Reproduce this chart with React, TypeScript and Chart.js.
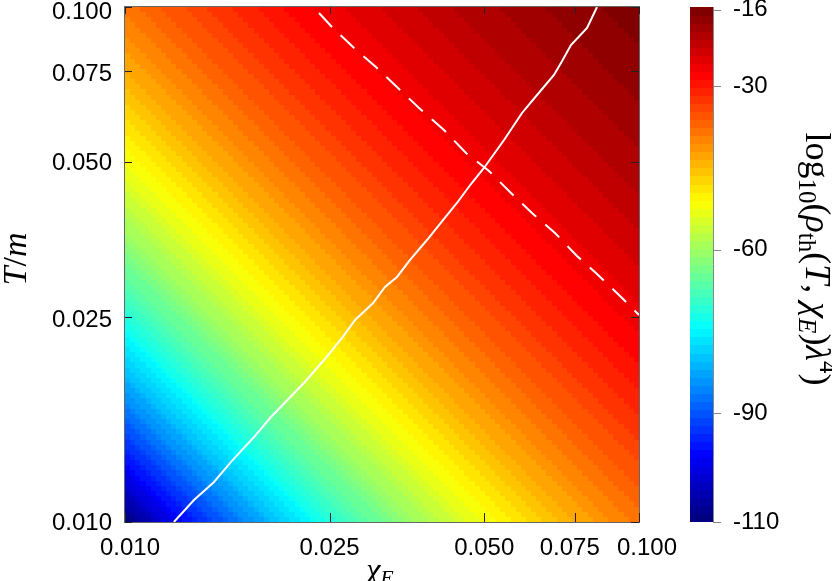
import { useEffect, useRef } from 'react';
import { Chart, registerables } from 'chart.js';

Chart.register(...registerables);

// ---------- data ----------
const X_TICKS = [0.01, 0.025, 0.05, 0.075, 0.1];
const Y_TICKS = [0.01, 0.025, 0.05, 0.075, 0.1];
const CB_TICKS = [-110, -90, -60, -30, -16];
const CB_MIN = -110;
const CB_MAX = -15.5;

// heat map: GRID_N x GRID_N log-spaced cells over [0.01,0.1]^2.
// The colour is constant along anti-diagonals, so the value of cell (i,j) is HEAT_DIAGONAL[i+j]
const GRID_N = 100;
const HEAT_DIAGONAL = [
  -108.8, -107.6, -106.4, -105.3, -104.1, -103.0, -101.9, -100.8, -99.7, -98.6,
  -97.5, -96.5, -95.5, -94.5, -93.4, -92.4, -91.4, -90.5, -89.5, -88.5,
  -87.5, -86.6, -85.7, -84.8, -83.9, -83.0, -82.1, -81.2, -80.3, -79.5,
  -78.6, -77.8, -77.0, -76.2, -75.4, -74.6, -73.8, -73.0, -72.2, -71.5,
  -70.7, -70.0, -69.2, -68.5, -67.8, -67.1, -66.4, -65.7, -65.0, -64.3,
  -63.6, -63.0, -62.3, -61.7, -61.0, -60.4, -59.7, -59.1, -58.5, -57.9,
  -57.3, -56.7, -56.1, -55.6, -55.0, -54.4, -53.8, -53.3, -52.7, -52.2,
  -51.7, -51.2, -50.6, -50.1, -49.6, -49.1, -48.6, -48.1, -47.6, -47.2,
  -46.7, -46.2, -45.7, -45.3, -44.8, -44.4, -43.9, -43.5, -43.0, -42.6,
  -42.2, -41.8, -41.4, -41.0, -40.6, -40.2, -39.8, -39.4, -39.0, -38.6,
  -38.2, -37.9, -37.5, -37.1, -36.7, -36.4, -36.0, -35.7, -35.3, -35.0,
  -34.7, -34.4, -34.0, -33.7, -33.4, -33.1, -32.7, -32.4, -32.1, -31.8,
  -31.5, -31.2, -30.9, -30.6, -30.3, -30.1, -29.8, -29.5, -29.2, -29.0,
  -28.7, -28.4, -28.1, -27.9, -27.6, -27.4, -27.1, -26.9, -26.6, -26.4,
  -26.2, -26.0, -25.7, -25.5, -25.2, -25.0, -24.8, -24.6, -24.4, -24.2,
  -23.9, -23.7, -23.5, -23.3, -23.1, -22.9, -22.7, -22.5, -22.3, -22.1,
  -21.9, -21.8, -21.6, -21.4, -21.2, -21.0, -20.8, -20.7, -20.5, -20.3,
  -20.1, -20.0, -19.8, -19.7, -19.5, -19.4, -19.2, -19.0, -18.8, -18.7,
  -18.5, -18.4, -18.3, -18.2, -18.0, -17.9, -17.7, -17.6, -17.4, -17.3,
  -17.1, -17.0, -16.9, -16.8, -16.6, -16.5, -16.4, -16.3, -16.2,
];

const SOLID_X = [
  0.01245, 0.01362, 0.0149, 0.01608, 0.01782, 0.01923, 0.02229, 0.02439, 0.02644,
  0.02803, 0.03038, 0.03205, 0.03382, 0.03585, 0.03868, 0.04156, 0.04424, 0.04711,
  0.04993, 0.05463, 0.05921, 0.06333, 0.06832, 0.0705, 0.07373, 0.07924, 0.08285,
];
const SOLID_Y = [
  0.01, 0.01103, 0.01196, 0.01308, 0.01462, 0.01599, 0.01862, 0.02063, 0.02277,
  0.02467, 0.02662, 0.0286, 0.02991, 0.03228, 0.03528, 0.03858, 0.04163, 0.04532,
  0.04869, 0.05517, 0.06226, 0.06747, 0.07379, 0.07785, 0.08436, 0.09104, 0.1,
];

const DASHED_X = [
  0.02385, 0.02527, 0.0279, 0.03078, 0.03413, 0.03733, 0.04174, 0.04607,
  0.05108, 0.05636, 0.06192, 0.06864, 0.07574, 0.08285, 0.09184, 0.1,
];
const DASHED_Y = [
  0.09734, 0.09146, 0.08325, 0.07647, 0.0693, 0.06367, 0.05771, 0.05206,
  0.04804, 0.04353, 0.03981, 0.0364, 0.03285, 0.0303, 0.02747, 0.02523,
];

// ---------- helpers ----------
const clamp = (v: number) => Math.max(0, Math.min(1, v));
function jet(f: number): string {
  const r = clamp(1.5 - Math.abs(4 * f - 3));
  const g = clamp(1.5 - Math.abs(4 * f - 2));
  const b = clamp(1.5 - Math.abs(4 * f - 1));
  return `rgb(${Math.round(r * 255)},${Math.round(g * 255)},${Math.round(b * 255)})`;
}
const LEVELS = 64;
function colorFor(v: number): string {
  const f = (v - CB_MIN) / (CB_MAX - CB_MIN);
  const idx = Math.max(0, Math.min(LEVELS - 1, Math.floor(f * LEVELS)));
  return jet(idx / (LEVELS - 1));
}

type Seg = { t: string; italic?: boolean; size: number; dy?: number };
const SERIF = '"Liberation Serif", "DejaVu Serif", serif';
const SANS = '"Liberation Sans", Arial, sans-serif';
function drawRich(ctx: CanvasRenderingContext2D, segs: Seg[]) {
  let w = 0;
  for (const s of segs) {
    ctx.font = `${s.italic ? 'italic ' : ''}${s.size}px ${SERIF}`;
    w += ctx.measureText(s.t).width;
  }
  let x = -w / 2;
  ctx.textAlign = 'left';
  ctx.textBaseline = 'alphabetic';
  for (const s of segs) {
    ctx.font = `${s.italic ? 'italic ' : ''}${s.size}px ${SERIF}`;
    ctx.fillText(s.t, x, s.dy || 0);
    x += ctx.measureText(s.t).width;
  }
}

// small label nudges seen in the original rendering (pixels)
function xLabelNudge(v: number) {
  if (v === 0.01) return 5;
  if (v === 0.075) return -5;
  if (v === 0.1) return 8;
  return 0;
}
function yLabelNudge(v: number) {
  if (v === 0.1) return 4;
  if (v === 0.025) return 2;
  if (v === 0.075) return 2;
  return 0;
}

const heatPlugin = {
  id: 'heatmap',
  beforeDatasetsDraw(chart: any) {
    const { ctx, chartArea: a, scales } = chart;
    const xs = scales.x;
    const ys = scales.y;
    const edges: number[] = [];
    for (let i = 0; i <= GRID_N; i++) edges.push(Math.pow(10, -2 + i / GRID_N));
    ctx.save();
    ctx.beginPath();
    ctx.rect(a.left, a.top, a.right - a.left, a.bottom - a.top);
    ctx.clip();
    for (let i = 0; i < GRID_N; i++) {
      const x0 = Math.round(xs.getPixelForValue(edges[i]));
      const x1 = Math.round(xs.getPixelForValue(edges[i + 1]));
      for (let j = 0; j < GRID_N; j++) {
        const y0 = Math.round(ys.getPixelForValue(edges[j]));
        const y1 = Math.round(ys.getPixelForValue(edges[j + 1]));
        ctx.fillStyle = colorFor(HEAT_DIAGONAL[i + j]);
        ctx.fillRect(x0, y1, x1 - x0, y0 - y1);
      }
    }
    ctx.restore();
  },
  afterDraw(chart: any) {
    const { ctx, chartArea: a, scales } = chart;
    const xs = scales.x;
    const ys = scales.y;
    const cb = scales.cb;
    ctx.save();
    // frame
    ctx.strokeStyle = '#666';
    ctx.lineWidth = 1;
    ctx.strokeRect(a.left - 0.5, a.top - 0.5, a.right - a.left + 1, a.bottom - a.top + 1);
    // inward ticks
    ctx.strokeStyle = '#222';
    ctx.beginPath();
    for (const v of X_TICKS) {
      const px = Math.round(xs.getPixelForValue(v)) + 0.5;
      ctx.moveTo(px, a.bottom);
      ctx.lineTo(px, a.bottom - 9);
      ctx.moveTo(px, a.top);
      ctx.lineTo(px, a.top + 7);
    }
    for (const v of Y_TICKS) {
      const py = Math.round(ys.getPixelForValue(v)) + 0.5;
      ctx.moveTo(a.left, py);
      ctx.lineTo(a.left + 7, py);
      ctx.moveTo(a.right, py);
      ctx.lineTo(a.right - 8, py);
    }
    ctx.stroke();

    // tick labels
    ctx.fillStyle = '#000';
    ctx.font = `24px ${SANS}`;
    ctx.textBaseline = 'middle';
    ctx.textAlign = 'center';
    for (const v of X_TICKS) {
      const px = xs.getPixelForValue(v) + xLabelNudge(v);
      ctx.fillText(v.toFixed(3), px, a.bottom + 26);
    }
    ctx.textAlign = 'right';
    for (const v of Y_TICKS) {
      const py = ys.getPixelForValue(v) + yLabelNudge(v);
      ctx.fillText(v.toFixed(3), a.left - 13, py + 1);
    }

    // colour bar
    const bx0 = a.right + 51;
    const bx1 = a.right + 74;
    const span = (CB_MAX - CB_MIN) / LEVELS;
    for (let k = 0; k < LEVELS; k++) {
      const yA = cb.getPixelForValue(CB_MIN + k * span);
      const yB = cb.getPixelForValue(CB_MIN + (k + 1) * span);
      ctx.fillStyle = jet(k / (LEVELS - 1));
      ctx.fillRect(bx0, Math.floor(yB), bx1 - bx0, Math.ceil(yA) - Math.floor(yB));
    }
    ctx.strokeStyle = '#888';
    ctx.beginPath();
    ctx.moveTo(bx1 + 0.5, cb.top);
    ctx.lineTo(bx1 + 0.5, cb.bottom);
    for (const v of CB_TICKS) {
      const py = Math.round(cb.getPixelForValue(v)) + 0.5;
      ctx.moveTo(bx1, py);
      ctx.lineTo(bx1 + 8, py);
    }
    ctx.stroke();

    // titles
    ctx.fillStyle = '#000';
    // y title T/m
    ctx.save();
    ctx.translate(26, 259);
    ctx.rotate(-Math.PI / 2);
    drawRich(ctx, [
      { t: 'T', italic: true, size: 34 },
      { t: '/', size: 34 },
      { t: 'm', italic: true, size: 34 },
    ]);
    ctx.restore();
    // x title chi_E
    ctx.save();
    ctx.translate(380, 580);
    drawRich(ctx, [
      { t: 'χ', italic: true, size: 32 },
      { t: 'E', italic: true, size: 22, dy: 5 },
    ]);
    ctx.restore();
    // colour bar title
    ctx.save();
    ctx.translate(806, 259);
    ctx.rotate(Math.PI / 2);
    drawRich(ctx, [
      { t: 'log', size: 36 },
      { t: '10', size: 25, dy: 7 },
      { t: '(', size: 36 },
      { t: 'ρ', italic: true, size: 36 },
      { t: 'th', size: 25, dy: 7 },
      { t: '(', size: 36 },
      { t: 'T', italic: true, size: 36 },
      { t: ', ', size: 36 },
      { t: 'χ', italic: true, size: 36 },
      { t: 'E', italic: true, size: 25, dy: 7 },
      { t: ')', size: 36 },
      { t: 'λ', italic: true, size: 36 },
      { t: '4', size: 25, dy: -14 },
      { t: ')', size: 36 },
    ]);
    ctx.restore();
    ctx.restore();
  },
};

const TICK_FONT = { family: SANS, size: 24 };

export default function App() {
  const ref = useRef<HTMLCanvasElement>(null);
  useEffect(() => {
    if (!ref.current) return;
    const solid = SOLID_X.map((x, i) => ({ x, y: SOLID_Y[i] }));
    const dashed = DASHED_X.map((x, i) => ({ x, y: DASHED_Y[i] }));
    const zeroPad = (s: any) => {
      s.paddingTop = 0;
      s.paddingBottom = 0;
      s.paddingLeft = 0;
      s.paddingRight = 0;
    };
    const chart = new Chart(ref.current, {
      type: 'scatter',
      data: {
        datasets: [
          {
            data: solid,
            showLine: true,
            borderColor: '#ffffff',
            borderWidth: 2,
            pointRadius: 0,
            tension: 0,
          },
          {
            data: dashed,
            showLine: true,
            borderColor: '#ffffff',
            borderWidth: 2,
            borderDash: [19, 12],
            pointRadius: 0,
            tension: 0,
          },
        ],
      },
      options: {
        responsive: false,
        animation: false,
        devicePixelRatio: 1,
        layout: { padding: { top: 7, left: 0, right: 0, bottom: 0 } },
        plugins: { legend: { display: false }, tooltip: { enabled: false } },
        scales: {
          x: {
            type: 'logarithmic',
            min: 0.01,
            max: 0.1,
            afterBuildTicks: (s: any) => {
              s.ticks = X_TICKS.map((v) => ({ value: v }));
            },
            afterFit: (s: any) => {
              s.height = 59;
              zeroPad(s);
            },
            ticks: { display: false },
            grid: { display: false, drawTicks: false },
            border: { display: false },
          },
          y: {
            type: 'logarithmic',
            min: 0.01,
            max: 0.1,
            afterBuildTicks: (s: any) => {
              s.ticks = Y_TICKS.map((v) => ({ value: v }));
            },
            afterFit: (s: any) => {
              s.width = 125;
              zeroPad(s);
            },
            ticks: { display: false },
            grid: { display: false, drawTicks: false },
            border: { display: false },
          },
          cb: {
            type: 'linear',
            axis: 'y',
            position: 'right',
            min: CB_MIN,
            max: CB_MAX,
            afterBuildTicks: (s: any) => {
              s.ticks = CB_TICKS.map((v) => ({ value: v }));
            },
            afterFit: (s: any) => {
              s.width = 193;
              zeroPad(s);
            },
            ticks: {
              callback: (v: any) => String(v),
              font: TICK_FONT,
              color: '#000',
              padding: 94,
              autoSkip: false,
            },
            grid: { display: false, drawTicks: false },
            border: { display: false },
          },
        },
      },
      plugins: [heatPlugin],
    } as any);
    return () => chart.destroy();
  }, []);
  return (
    <canvas
      ref={ref}
      width={832}
      height={581}
      style={{ display: 'block', position: 'fixed', left: 0, top: 0 }}
    />
  );
}
